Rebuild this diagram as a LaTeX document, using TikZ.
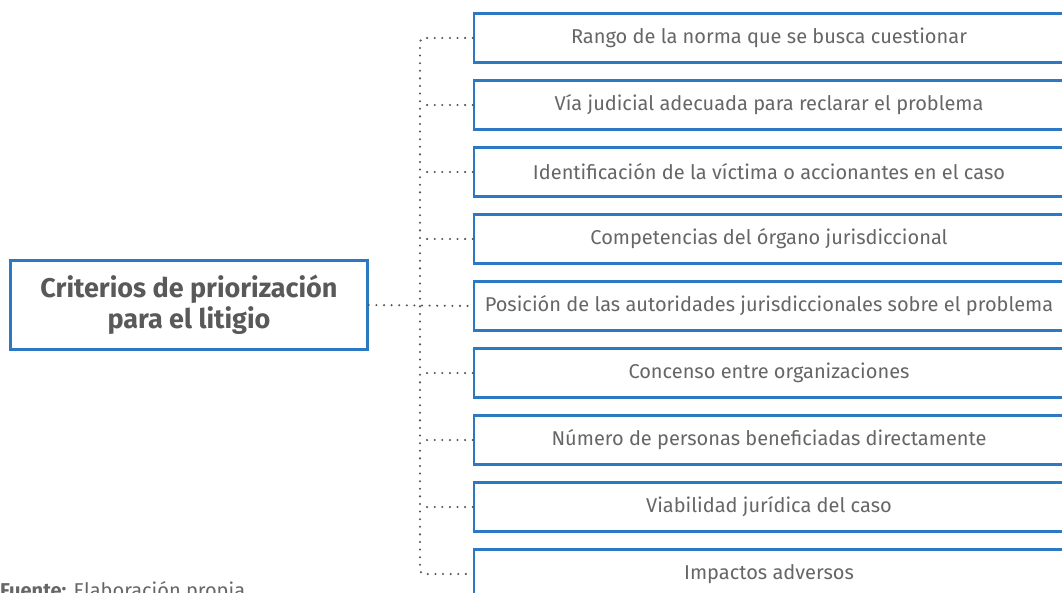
\documentclass[tikz,border=0pt]{standalone}
\usepackage{fontspec}
\setmainfont{Fira Sans}
\usetikzlibrary{positioning}

\definecolor{boxblue}{HTML}{2A79C2}
\definecolor{txtgrey}{HTML}{666666}
\definecolor{dotgrey}{HTML}{555555}

\tikzset{
    critbox/.style={draw=boxblue, line width=2.6pt, fill=white, text=txtgrey,
        minimum width=590pt, minimum height=49pt, inner sep=0pt,
        font=\fontsize{20}{24}\selectfont},
    mainbox/.style={draw=boxblue, line width=2.6pt, fill=white, text=black!65,
        minimum width=357pt, minimum height=89pt, align=center,
        font=\fontsize{27}{31}\selectfont\bfseries},
    link/.style={draw=dotgrey, line width=2.3pt, line cap=round,
        dash pattern=on 0pt off 7.6pt}
}

\begin{document}
\begin{tikzpicture}[x=1pt, y=-1pt]
    % Frame
    \clip (0,0) rectangle (1062,592);

    % Main box
    \node[mainbox] (main) at (189,305) {Criterios de priorización\\para el litigio};

    % Criteria boxes
    \node[critbox] (c1) at (769,38)  {Rango de la norma que se busca cuestionar};
    \node[critbox] (c2) at (769,105) {Vía judicial adecuada para reclarar el problema};
    \node[critbox] (c3) at (769,172) {Identificación de la víctima o accionantes en el caso};
    \node[critbox] (c4) at (769,239) {Competencias del órgano jurisdiccional};
    \node[critbox] (c5) at (769,306) {Posición de las autoridades jurisdiccionales sobre el problema};
    \node[critbox] (c6) at (769,373) {Concenso entre organizaciones};
    \node[critbox] (c7) at (769,440) {Número de personas beneficiadas directamente};
    \node[critbox] (c8) at (769,507) {Viabilidad jurídica del caso};
    \node[critbox] (c9) at (769,574) {Impactos adversos};

    % Trunk
    \coordinate (t) at (420,0);
    \draw[link, rounded corners=4pt] (c1.west) -- (c1.west -| t) -- (c9.west -| t) -- (c9.west);
    \draw[link] (main.east) -- (c5.west);
    \draw[link] (c2.west) -- (c2.west -| t);
    \draw[link] (c3.west) -- (c3.west -| t);
    \draw[link] (c4.west) -- (c4.west -| t);
    \draw[link] (c6.west) -- (c6.west -| t);
    \draw[link] (c7.west) -- (c7.west -| t);
    \draw[link] (c8.west) -- (c8.west -| t);

    % Source note
    \node[anchor=base west, inner sep=0pt, text=txtgrey, font=\fontsize{20}{24}\selectfont] (src)
        at (0,597) {\textbf{Fuente:} Elaboración propia};
\end{tikzpicture}
\end{document}
